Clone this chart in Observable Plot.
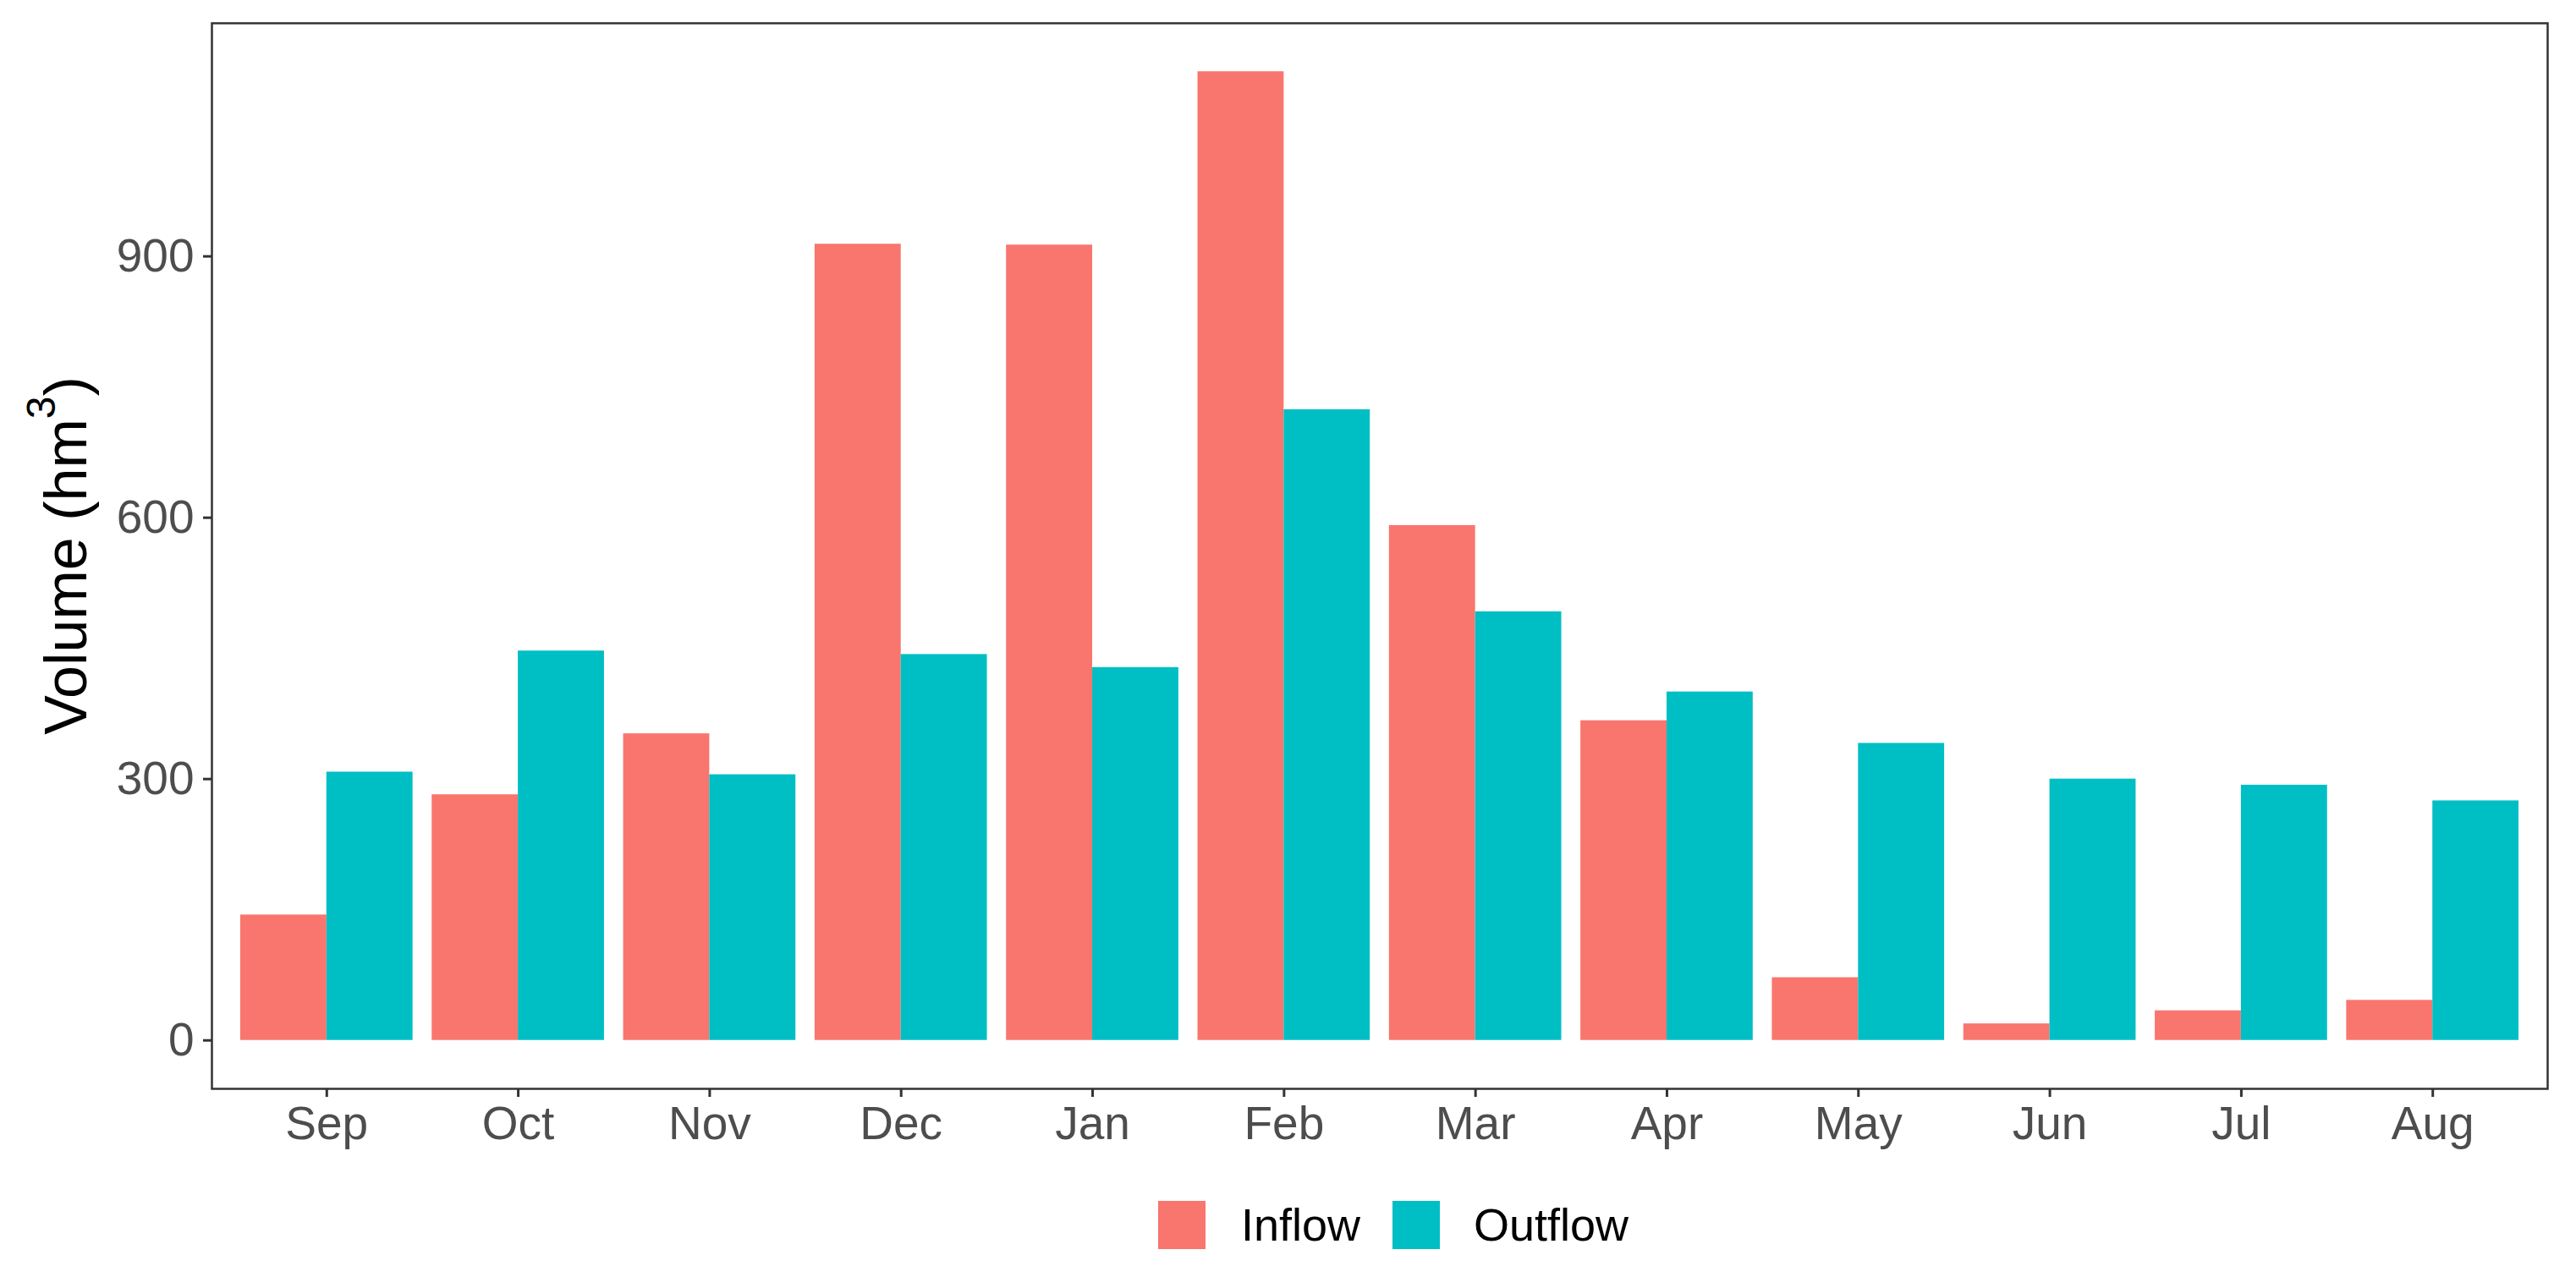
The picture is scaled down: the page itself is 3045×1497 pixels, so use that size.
<!DOCTYPE html>
<html>
<head>
<meta charset="utf-8">
<script src="https://cdn.jsdelivr.net/npm/d3@7"></script>
<script src="https://cdn.jsdelivr.net/npm/@observablehq/plot@0.6"></script>
<style>
  html, body { margin: 0; padding: 0; background: #ffffff; }
  #wrap { position: relative; width: 3045px; height: 1497px; font-family: "Liberation Sans", Arial, sans-serif; background: #fff; }
  #legend { position: absolute; left: 0; top: 1380px; width: 3045px; height: 117px; }
  .key { position: absolute; top: 40px; width: 56px; height: 57px; }
  .lab { position: absolute; top: 40px; height: 57px; line-height: 57px; font-size: 54px; color: #000; white-space: nowrap; }
</style>
</head>
<body>
<div id="wrap"><div id="chart"></div><div id="legend"></div></div>
<script>
// ---- data ----
const months = ["Sep","Oct","Nov","Dec","Jan","Feb","Mar","Apr","May","Jun","Jul","Aug"];
const series = ["Inflow","Outflow"];
const colors = ["#F8766D","#00BFC4"];
const inflow  = [144, 282, 352, 914, 913, 1112, 591, 367, 72, 19, 34, 46];
const outflow = [308, 447, 305, 443, 428, 724, 492, 400, 341, 300, 293, 275];
const yTicks = [0, 300, 600, 900];
const yTitle = "Volume (hm";
const yTitleSup = "3";

// long table; dodge position like ggplot position_dodge(width = 0.9)
const dodge = 0.9;
const table = [];
months.forEach((m, i) => {
  [inflow, outflow].forEach((vals, s) => {
    const w = dodge / series.length;
    const x1 = i - dodge / 2 + s * w;
    table.push({month: m, idx: i, type: series[s], value: vals[i], x1, x2: x1 + w});
  });
});

const maxV = d3.max(table, d => d.value);
const font = '"Liberation Sans", Arial, sans-serif';

const plot = Plot.plot({
  width: 3045,
  height: 1380,
  marginLeft: 250,
  marginRight: 34,
  marginTop: 27,
  marginBottom: 93,
  style: {fontFamily: font, fontSize: "55px", background: "#ffffff", overflow: "visible"},
  x: {type: "linear", domain: [-0.6, months.length - 1 + 0.6]},
  y: {domain: [-0.05 * maxV, 1.05 * maxV]},
  color: {domain: series, range: colors},
  marks: [
    Plot.rectY(table, {x1: "x1", x2: "x2", y1: 0, y2: "value", fill: "type"}),
    Plot.frame({stroke: "#333333", strokeWidth: 2.5}),
    Plot.axisX({
      ticks: d3.range(months.length),
      tickFormat: i => months[i],
      tickSize: 10, tickPadding: 10,
      stroke: "#333333", strokeWidth: 3,
      fill: "#4D4D4D", fontSize: 55,
      label: null
    }),
    Plot.axisY({
      ticks: yTicks,
      tickFormat: d => String(d),
      tickSize: 10, tickPadding: 11,
      stroke: "#333333", strokeWidth: 3,
      fill: "#4D4D4D", fontSize: 55,
      label: null
    })
  ]
});
document.getElementById("chart").appendChild(plot);

// y-axis title with superscript
const svg = d3.select(plot);
const t = svg.append("text")
  .attr("transform", "translate(102,657) rotate(-90)")
  .attr("text-anchor", "middle")
  .attr("font-family", font)
  .attr("font-size", 70)
  .attr("fill", "#000");
t.append("tspan").text(yTitle);
t.append("tspan").attr("font-size", 48).attr("dy", -37).text(yTitleSup);
t.append("tspan").attr("dy", 37).text(")");

// legend below the chart
const legend = document.getElementById("legend");
const keyX = [1369, 1646];
const labX = [1467, 1742];
series.forEach((s, i) => {
  const k = document.createElement("div");
  k.className = "key";
  k.style.left = keyX[i] + "px";
  k.style.background = colors[i];
  legend.appendChild(k);
  const l = document.createElement("div");
  l.className = "lab";
  l.style.left = labX[i] + "px";
  l.textContent = s;
  legend.appendChild(l);
});
</script>
</body>
</html>
